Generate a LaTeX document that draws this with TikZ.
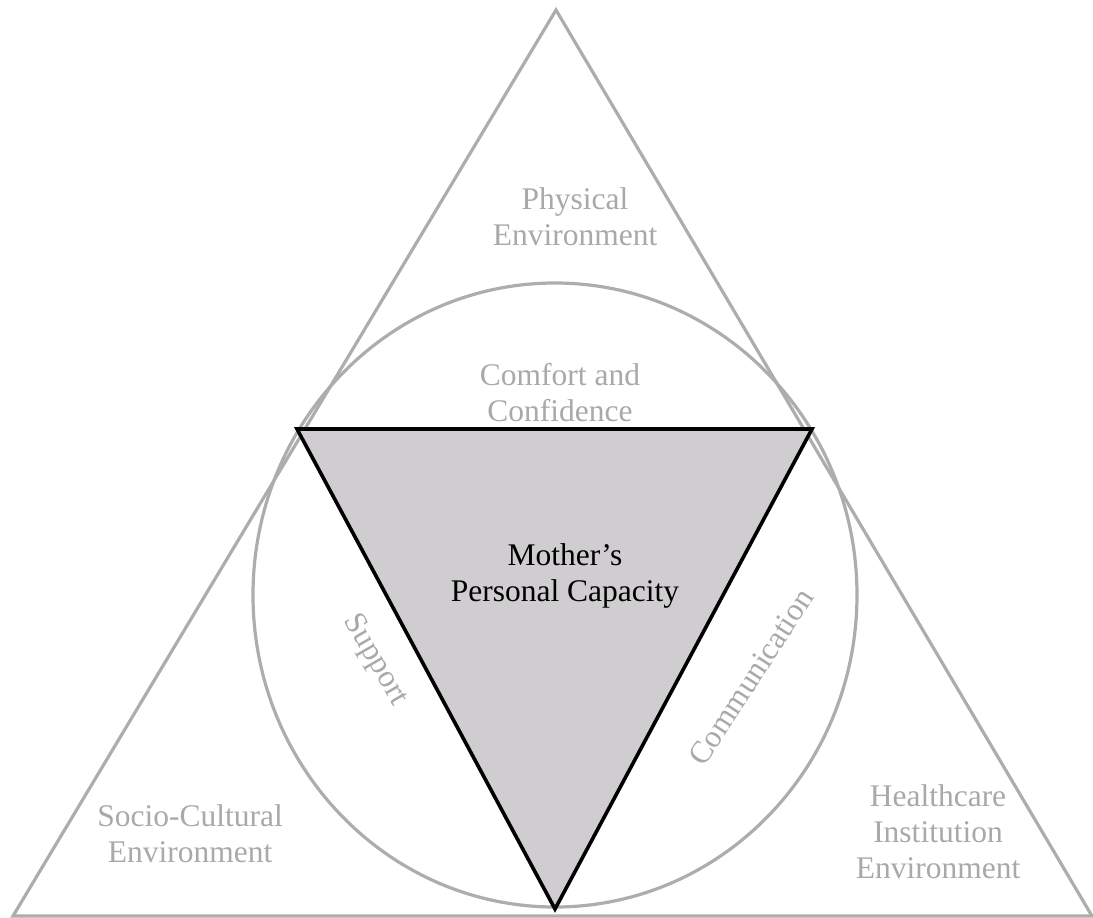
\documentclass[tikz,border=0pt]{standalone}
\usepackage{fontspec}
\setmainfont{Liberation Serif}
\definecolor{linegray}{RGB}{175,172,172}
\definecolor{txtgray}{RGB}{170,168,169}
\definecolor{fillgray}{RGB}{207,205,207}
\begin{document}
\begin{tikzpicture}[x=1pt,y=-1pt,
  outer/.style={draw=linegray, line width=3.2pt, line join=miter},
  inner/.style={draw=black, line width=3.6pt, fill=fillgray, line join=miter},
  lbl/.style={text=txtgray, font=\fontsize{31.5}{36}\selectfont, align=center, inner sep=0pt, anchor=base},
  rlbl/.style={text=txtgray, font=\fontsize{31.5}{36}\selectfont, inner sep=0pt, anchor=center}]
\useasboundingbox (0,0) rectangle (1093,918);
\coordinate (A) at (556,10);
\coordinate (B) at (13,916);
\coordinate (C) at (1092,916);
\coordinate (O) at (555,595);
\coordinate (P) at (297,429);
\coordinate (Q) at (812,429);
\coordinate (R) at (555,909);
\draw[outer] (A) -- (B) -- (C) -- cycle;
\draw[outer] (O) ellipse [x radius=302pt, y radius=312pt];
\draw[inner] (P) -- (Q) -- (R) -- cycle;
\node[lbl] (phys) at (575,245) {Physical\\Environment};
\node[lbl] (comf) at (560,421) {Comfort and\\Confidence};
\node[lbl, text=black] (moth) at (565,601) {Mother’s\\Personal Capacity};
\node[lbl] (soc) at (190,862) {Socio-Cultural\\Environment};
\node[lbl] (hc) at (938,878) {Healthcare\\Institution\\Environment};
\node[rlbl, rotate=-60] (sup) at (375,660) {Support};
\node[rlbl, rotate=57] (com) at (751,677) {Communication};
\end{tikzpicture}
\end{document}
